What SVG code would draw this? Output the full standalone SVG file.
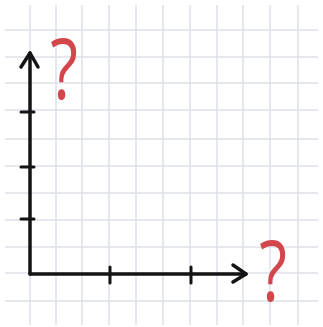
<svg xmlns="http://www.w3.org/2000/svg" width="323" height="327" viewBox="0 0 323 327">
<style>
.grid line{stroke:#dde0e8;stroke-width:1.5}
.ax{stroke:#141414;stroke-width:3.5;fill:none;stroke-linecap:round;stroke-linejoin:round}
.tick{stroke:#141414;stroke-width:3;stroke-linecap:round}
.q{font-family:"Open Sans","Liberation Sans",Arial,sans-serif;font-weight:400;font-size:80px;fill:#d2464c;text-anchor:middle}
</style>
<rect width="323" height="327" fill="#ffffff"/>
<g class="grid" id="grid">
<line x1="30" y1="5" x2="30" y2="325"/><line x1="56" y1="5" x2="56" y2="325"/><line x1="82" y1="5" x2="82" y2="325"/><line x1="109" y1="5" x2="109" y2="325"/><line x1="136" y1="5" x2="136" y2="325"/><line x1="163" y1="5" x2="163" y2="325"/><line x1="190" y1="5" x2="190" y2="325"/><line x1="217" y1="5" x2="217" y2="325"/><line x1="243" y1="5" x2="243" y2="325"/><line x1="270" y1="5" x2="270" y2="325"/><line x1="298" y1="5" x2="298" y2="325"/>
<line x1="5" y1="30" x2="318" y2="30"/><line x1="5" y1="57" x2="318" y2="57"/><line x1="5" y1="83" x2="318" y2="83"/><line x1="5" y1="110" x2="318" y2="110"/><line x1="5" y1="139" x2="318" y2="139"/><line x1="5" y1="166" x2="318" y2="166"/><line x1="5" y1="193" x2="318" y2="193"/><line x1="5" y1="220" x2="318" y2="220"/><line x1="5" y1="247" x2="318" y2="247"/><line x1="5" y1="273" x2="318" y2="273"/><line x1="5" y1="301" x2="318" y2="301"/>
</g>
<g id="connectors">
<path class="ax" d="M30,274 L30,53"/>
<path class="ax" d="M21,67 L30,53 L38,67"/>
<path class="ax" d="M30,274 L246,274"/>
<path class="ax" d="M233,265 L246,274 L233,282"/>
</g>
<g id="ticks">
<line class="tick" x1="21" y1="112" x2="34" y2="112"/>
<line class="tick" x1="21" y1="167" x2="34" y2="167"/>
<line class="tick" x1="21" y1="219" x2="34" y2="219"/>
<line class="tick" x1="110" y1="267" x2="110" y2="283"/>
<line class="tick" x1="191" y1="267" x2="191" y2="283"/>
</g>
<g id="y-label"><text class="q" transform="translate(64,99) scale(0.8,1.05)">?</text></g>
<g id="x-label"><text class="q" transform="translate(273,301) scale(0.8,1.05)">?</text></g>
</svg>
